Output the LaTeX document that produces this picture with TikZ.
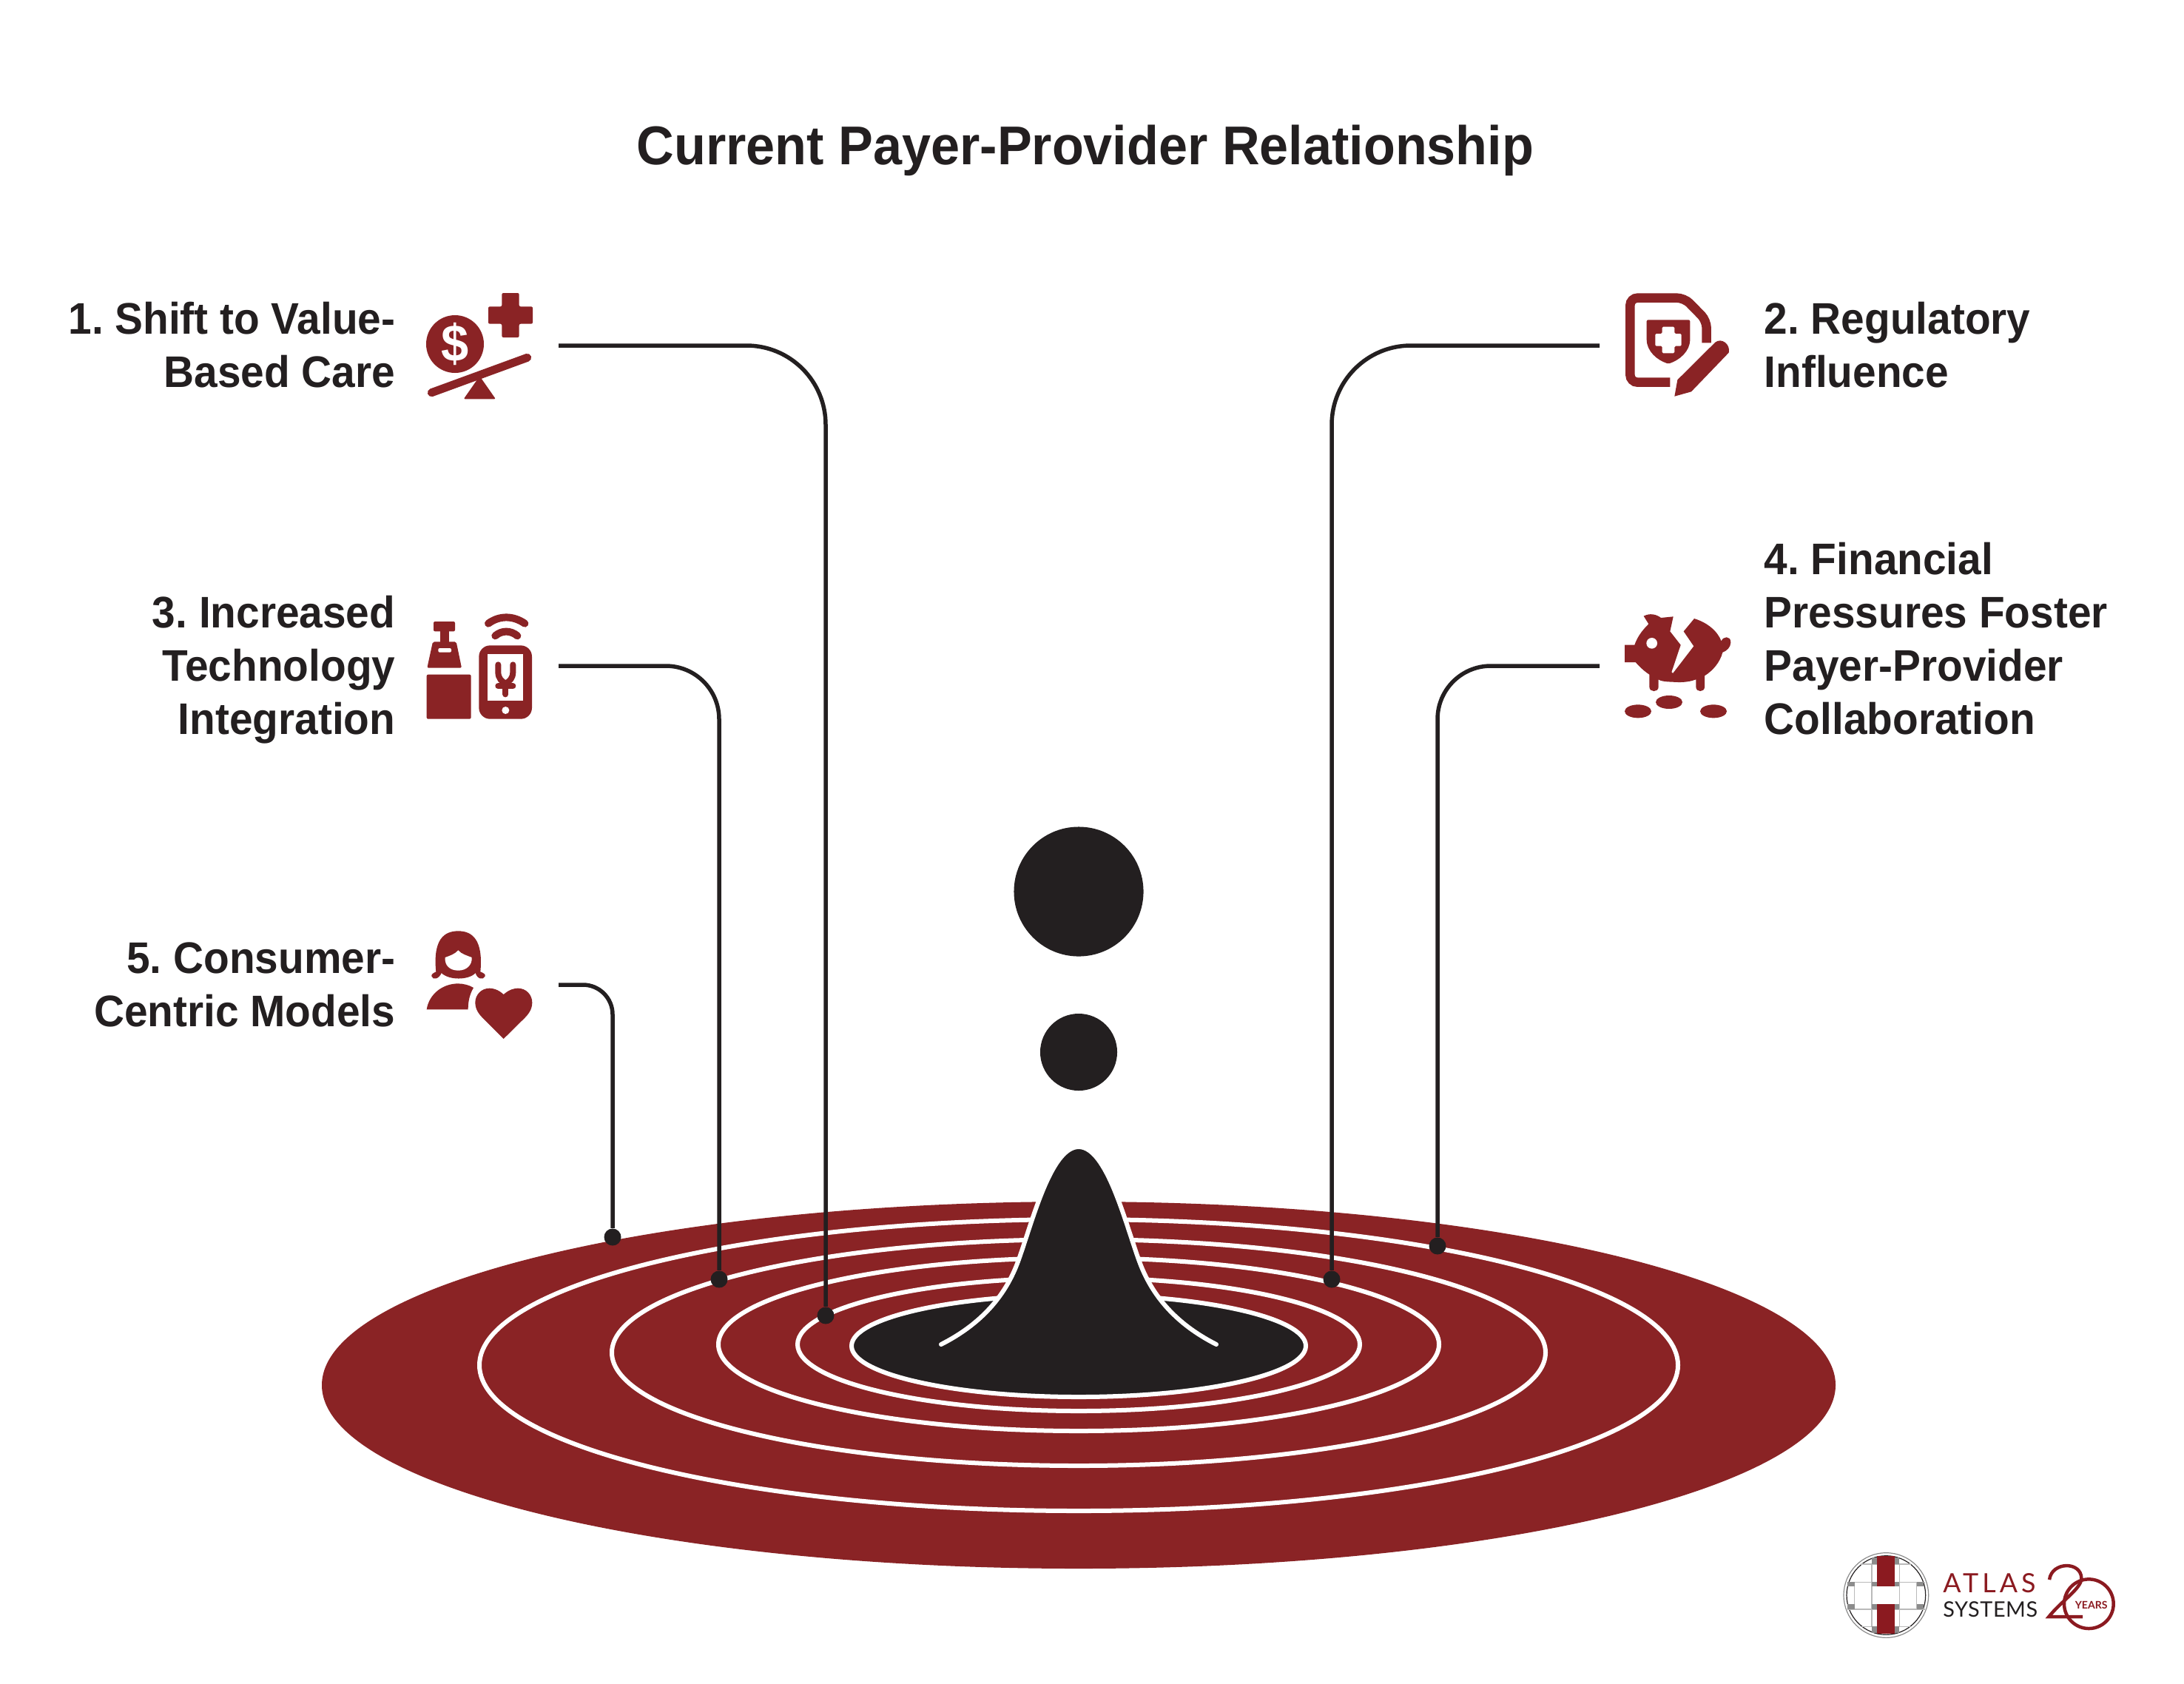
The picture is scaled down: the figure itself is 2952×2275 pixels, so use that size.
\documentclass[tikz,border=0pt]{standalone}
\usepackage{fontspec}
\setmainfont[FakeStretch=.95]{Liberation Sans}
\newfontfamily\logofont{Lato}
\definecolor{wine}{RGB}{138,35,37}
\definecolor{ink}{RGB}{35,31,32}
\definecolor{logored}{RGB}{139,26,32}
\definecolor{logogray}{RGB}{140,140,140}
\tikzset{
  label/.style={font=\fontsize{17pt}{20.5pt}\selectfont\bfseries\frenchspacing,text=ink,inner sep=0pt},
  leader/.style={draw=ink,line width=.055cm},
  leaderdot/.style={circle,fill=ink,inner sep=0pt,minimum size=.23cm},
  ring/.style={draw=white,line width=.06cm},
  icon/.style={shift={#1},scale=1/3},
}
% icons are written in crop units, three to a pixel
\newcommand{\iconcare}{
  \fill[wine] (225,285) circle (117);
  \node[font=\fontsize{20pt}{20pt}\selectfont\bfseries,text=white,inner sep=0pt] (dollarsign) at (225,285) {\$};
  \fill[wine,rounded corners=.02cm] (415,78)--(485,78)--(485,133)--(540,133)--(540,203)--(485,203)--(485,258)--(415,258)--(415,203)--(360,203)--(360,133)--(415,133)--cycle;
  \draw[wine,line width=.11cm,line cap=round] (130,482)--(518,340);
  \fill[wine,rounded corners=.02cm] (325,415)--(390,508)--(260,508)--cycle;
}
\newcommand{\iconrule}{
  \draw[wine,line width=.125cm,rounded corners=.1cm] (232,440)--(70,440)--(70,98)--(290,98)--(380,190)--(380,280);
  \fill[wine,rounded corners=.02cm] (137,187)--(313,187)--(313,260) .. controls (313,315) and (270,350) .. (225,365) .. controls (180,350) and (137,315) .. (137,260)--cycle;
  \fill[white,rounded corners=.015cm] (200,215)--(250,215)--(250,243)--(278,243)--(278,293)--(250,293)--(250,322)--(200,322)--(200,293)--(172,293)--(172,243)--(200,243)--cycle;
  \fill[wine] (262,430)--(415,278) .. controls (440,258) and (478,285) .. (470,320)--(318,478)--(250,497)--cycle;
}
\newcommand{\icontech}{
  \fill[wine,rounded corners=.02cm] (80,305) rectangle (260,485);
  \fill[wine,rounded corners=.02cm] (108,90) rectangle (195,130);
  \fill[wine] (135,125) rectangle (170,175);
  \fill[wine,rounded corners=.02cm] (105,172)--(200,172)--(222,278)--(82,278)--cycle;
  \fill[white,rounded corners=.02cm] (127,198) rectangle (180,215);
  \fill[wine,rounded corners=.15cm] (292,187) rectangle (507,485);
  \fill[white] (328,222) rectangle (472,412);
  \fill[white] (400,450) circle (15);
  \draw[wine,line width=.1cm,line cap=round] (330,98) .. controls (375,65) and (430,65) .. (478,98);
  \draw[wine,line width=.1cm,line cap=round] (358,148) .. controls (385,125) and (420,125) .. (448,148);
  \draw[wine,line width=.08cm,line cap=round] (370,265)--(370,295) .. controls (370,320) and (385,335) .. (400,340) .. controls (415,335) and (430,320) .. (430,295)--(430,265);
  \draw[wine,line width=.08cm,line cap=round] (400,340)--(400,385) (370,352)--(430,352);
}
\newcommand{\iconpig}{
  \fill[wine] (48,185)--(88,185) .. controls (100,150) and (120,125) .. (145,100)--(125,68) .. controls (150,55) and (175,60) .. (195,75)--(245,70)--(232,130)--(275,185)--(238,295) .. controls (245,305) and (250,300) .. (255,290)--(245,298)--(250,335) .. controls (210,335) and (190,330) .. (185,325)--(185,355) .. controls (185,378) and (148,378) .. (148,355)--(148,305) .. controls (125,290) and (105,270) .. (92,255)--(48,255)--cycle;
  \fill[wine] (330,78) .. controls (385,95) and (425,130) .. (440,170) .. controls (445,150) and (478,145) .. (478,175) .. controls (478,195) and (460,210) .. (445,215) .. controls (435,255) and (405,290) .. (372,310)--(372,355) .. controls (372,378) and (337,378) .. (337,355)--(337,325) .. controls (310,335) and (280,338) .. (245,335)--(245,298)--(328,190)--(287,130)--cycle;
  \fill[white] (158,178) circle (22);
  \fill[wine] (102,454) ellipse [x radius=54,y radius=27];
  \fill[wine] (228,417) ellipse [x radius=54,y radius=27];
  \fill[wine] (408,454) ellipse [x radius=54,y radius=27];
}
\newcommand{\iconcon}{
  \fill[wine] (88,190) .. controls (75,60) and (120,25) .. (178,25) .. controls (235,25) and (280,60) .. (268,190) .. controls (280,195) and (290,200) .. (287,208) .. controls (280,225) and (255,220) .. (248,195) .. controls (220,225) and (140,225) .. (110,195) .. controls (100,220) and (75,225) .. (70,208) .. controls (68,200) and (78,195) .. (88,190)--cycle;
  \fill[white] (178,103) .. controls (190,118) and (215,125) .. (233,132) .. controls (235,165) and (210,185) .. (178,185) .. controls (145,185) and (122,165) .. (125,132) .. controls (145,125) and (165,118) .. (178,103)--cycle;
  \fill[wine] (50,343) .. controls (60,280) and (115,238) .. (178,238) .. controls (200,238) and (225,245) .. (240,255) .. controls (225,280) and (218,310) .. (218,343)--cycle;
  \fill[wine] (362,282) .. controls (340,262) and (320,257) .. (305,257) .. controls (270,257) and (247,285) .. (247,315) .. controls (247,345) and (265,365) .. (280,380)--(362,462)--(445,380) .. controls (460,365) and (478,345) .. (478,315) .. controls (478,285) and (455,257) .. (420,257) .. controls (405,257) and (385,262) .. (362,282)--cycle;
}
\newcommand{\logoatlas}{
  \draw[logogray,line width=.012cm] (208,198) circle (172);
  \draw[ink,line width=.012cm] (208,198) circle (160);
  \draw[logogray!60,line width=.012cm] (50,145)--(365,145) (50,255)--(365,255) (80,145)--(80,255) (150,145)--(150,255) (262,145)--(262,255) (332,145)--(332,255);
  \draw[logogray!60,line width=.012cm] (150,72)--(150,145) (262,72)--(262,145) (150,255)--(150,325) (262,255)--(262,325) (105,72)--(310,72) (105,325)--(310,325);
  \foreach \sqx/\sqy/\sqw/\sqh in {150/45/22/27,243/45/19/27,52/145/28/18,150/145/22/18,243/145/19/18,332/145/28/18,52/235/28/20,150/235/22/20,243/235/19/20,332/235/28/20,150/325/22/27,243/325/19/27}{
    \fill[logogray] (\sqx,\sqy) rectangle ++(\sqw,\sqh);
  }
  \fill[logored] (172,40) rectangle (243,163);
  \fill[logored] (172,235) rectangle (243,355);
  \draw[logored,line width=.045cm] (1030,233) circle (100);
  \draw[logored,line width=.045cm] (870,135) .. controls (880,60) and (1000,60) .. (1000,130) .. controls (1000,170) and (920,220) .. (868,285)--(1005,285);
}
\begin{document}
\begin{tikzpicture}[x=.01cm,y=-.01cm]
\useasboundingbox (0,0) rectangle (2952,2275);
\node[font=\fontsize{21pt}{24pt}\selectfont\bfseries,text=ink,inner sep=0pt] (title) at (1467,203) {Current Payer-Provider Relationship};
% disc and rings
\fill[wine] (1458,1872) ellipse [x radius=1023,y radius=248];
\draw[ring] (1458,1845) ellipse [x radius=810,y radius=197];
\draw[ring] (1458,1828) ellipse [x radius=631,y radius=153];
\draw[ring] (1458,1817) ellipse [x radius=487,y radius=117];
\draw[ring] (1458,1817) ellipse [x radius=380,y radius=90];
\draw[ring,fill=ink] (1458,1819) ellipse [x radius=307,y radius=69];
\draw[ring,fill=ink,line cap=round] (1272,1817) .. controls (1327,1789) and (1359,1751) .. (1376,1705) .. controls (1395,1653) and (1420,1550) .. (1458,1550) .. controls (1496,1550) and (1521,1653) .. (1540,1705) .. controls (1557,1751) and (1589,1789) .. (1644,1817);
\node[circle,fill=ink,inner sep=0pt,minimum size=1.75cm] (dropbig) at (1458,1205) {};
\node[circle,fill=ink,inner sep=0pt,minimum size=1.04cm] (dropsmall) at (1458,1422) {};
% labels
\node[label,anchor=east,align=right] (shift) at (535,466) {1. Shift to Value-\\Based Care};
\node[label,anchor=west,align=left] (regulatory) at (2384,466) {2. Regulatory\\Influence};
\node[label,anchor=east,align=right] (technology) at (535,905) {3. Increased\\Technology\\Integration};
\node[label,anchor=west,align=left] (financial) at (2384,863) {4. Financial\\Pressures Foster\\Payer-Provider\\Collaboration};
\node[label,anchor=east,align=right] (consumer) at (535,1331) {5. Consumer-\\Centric Models};
% leaders
\coordinate (startshift) at (755,467);
\coordinate (startregulatory) at (2162,467);
\coordinate (starttechnology) at (755,900);
\coordinate (startfinancial) at (2162,900);
\coordinate (startconsumer) at (755,1331);
\node[leaderdot] (dotshift) at (1116,1778) {};
\node[leaderdot] (dotregulatory) at (1800,1729) {};
\node[leaderdot] (dottechnology) at (972,1729) {};
\node[leaderdot] (dotfinancial) at (1943,1684) {};
\node[leaderdot] (dotconsumer) at (828,1672) {};
\draw[leader,rounded corners=1.07cm] (startshift) -| (dotshift);
\draw[leader,rounded corners=1.07cm] (startregulatory) -| (dotregulatory);
\draw[leader,rounded corners=.72cm] (starttechnology) -| (dottechnology);
\draw[leader,rounded corners=.72cm] (startfinancial) -| (dotfinancial);
\draw[leader,rounded corners=.4cm] (startconsumer) -| (dotconsumer);
% icons
\begin{scope}[icon={(540,370)}]\iconcare\end{scope}
\begin{scope}[icon={(2180,370)}]\iconrule\end{scope}
\begin{scope}[icon={(550,810)}]\icontech\end{scope}
\begin{scope}[icon={(2180,810)}]\iconpig\end{scope}
\begin{scope}[icon={(560,1250)}]\iconcon\end{scope}
% logo
\begin{scope}[icon={(2480,2090)}]
\logoatlas
\node[font=\logofont\fontsize{10.2pt}{11pt}\selectfont,text=logored,inner sep=0pt,anchor=base west] (atlas) at (437,188) {\addfontfeature{LetterSpace=14}ATLAS};
\node[font=\logofont\fontsize{8.2pt}{9pt}\selectfont,text=ink,inner sep=0pt,anchor=base west] (systems) at (437,285) {\addfontfeature{LetterSpace=2}SYSTEMS};
\node[font=\logofont\bfseries\fontsize{4pt}{5pt}\selectfont,text=logored,fill=white,inner sep=.5pt] (years) at (1040,238) {YEARS};
\end{scope}
\end{tikzpicture}
\end{document}
